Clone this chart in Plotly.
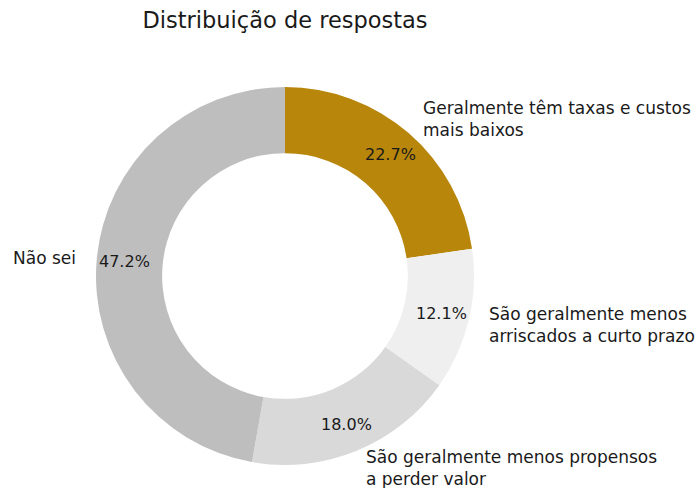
import math
import plotly.graph_objects as go

categories = [
    "Geralmente têm taxas e custos<br>mais baixos",
    "São geralmente menos<br>arriscados a curto prazo",
    "São geralmente menos propensos<br>a perder valor",
    "Não sei",
]
values = [22.7, 12.1, 18.0, 47.2]
colors = ["#b8860b", "#efefef", "#d9d9d9", "#bebebe"]

W, H = 695, 488
cx, cy, R = 285, 276, 189  # pixel geometry of the donut
hole = 0.65

fig = go.Figure(go.Pie(
    values=values,
    labels=categories,
    sort=False,
    direction="clockwise",
    rotation=0,
    hole=hole,
    marker=dict(colors=colors, line=dict(width=0)),
    textinfo="none",
    hoverinfo="label+percent",
    showlegend=False,
    domain=dict(x=[(cx - R) / W, (cx + R) / W],
                y=[(H - cy - R) / H, (H - cy + R) / H]),
))

annotations = []
total = sum(values)
start = 90.0
for lab, v in zip(categories, values):
    span = v / total * 360.0
    mid = math.radians(start - span / 2)
    start -= span
    # percentage label inside the ring
    rp = 0.85 * R
    px = cx + rp * math.cos(mid)
    py = cy - rp * math.sin(mid)
    annotations.append(dict(
        x=px / W, y=1 - py / H, xref="paper", yref="paper",
        text=f"{v / total * 100:.1f}%", showarrow=False,
        xanchor="center", yanchor="middle",
        font=dict(size=16, color="#1a1a1a", family="DejaVu Sans"),
    ))
    # category label outside
    rl = 1.1 * R
    lx = cx + rl * math.cos(mid)
    ly = cy - rl * math.sin(mid)
    right = math.cos(mid) >= 0
    annotations.append(dict(
        x=lx / W, y=1 - ly / H, xref="paper", yref="paper",
        text=lab, showarrow=False,
        xanchor="left" if right else "right", yanchor="middle",
        align="left" if right else "right",
        font=dict(size=17, color="#1a1a1a", family="DejaVu Sans"),
    ))

fig.update_layout(
    width=W, height=H,
    margin=dict(l=0, r=0, t=0, b=0),
    paper_bgcolor="white", plot_bgcolor="white",
    font=dict(family="DejaVu Sans", color="#1a1a1a"),
    title=dict(text="Distribuição de respostas", x=cx / W, xanchor="center",
               y=1 - 20 / H, yanchor="middle", yref="container",
               font=dict(size=22.5, color="#1a1a1a", family="DejaVu Sans")),
    annotations=annotations,
)

fig.write_html("out.html",
               config={"displayModeBar": False},
               post_script="document.body.style.margin='0';document.body.style.overflow='hidden';")
